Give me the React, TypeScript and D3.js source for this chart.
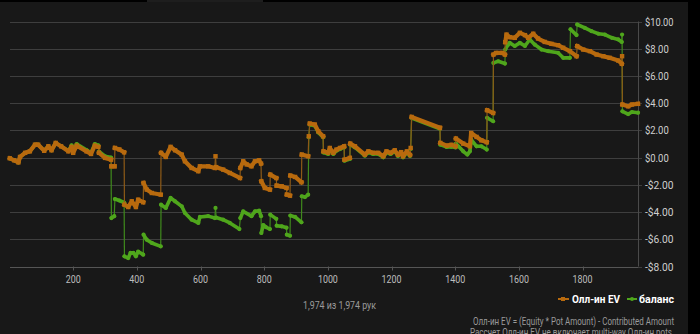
import React from "react";
import * as d3 from "d3";

const evHands = [1, 15, 28, 33, 49, 64, 80, 90, 109, 122, 132, 145, 162, 185, 195, 200, 211, 242, 256, 268, 279, 281, 300, 319, 320, 330, 331, 345, 360, 361, 373, 384, 397, 404, 420, 421, 431, 447, 475, 476, 491, 506, 520, 541, 551, 572, 593, 598, 624, 645, 647, 649, 671, 692, 724, 725, 734, 745, 760, 771, 784, 790, 791, 802, 818, 819, 838, 839, 855, 870, 871, 881, 882, 897, 917, 918, 938, 940, 943, 959, 970, 985, 986, 1001, 1006, 1017, 1027, 1038, 1051, 1052, 1069, 1070, 1085, 1116, 1127, 1142, 1158, 1174, 1184, 1197, 1210, 1220, 1230, 1236, 1248, 1258, 1260, 1263, 1352, 1353, 1373, 1388, 1401, 1402, 1425, 1446, 1450, 1467, 1482, 1499, 1500, 1519, 1520, 1528, 1548, 1556, 1557, 1561, 1571, 1587, 1603, 1619, 1629, 1645, 1660, 1681, 1702, 1723, 1739, 1760, 1781, 1783, 1802, 1823, 1844, 1865, 1885, 1912, 1923, 1924, 1925, 1943, 1955, 1974];
const evValues = [-0.05, -0.2, -0.35, 0.05, 0.35, 0.46, 0.95, 0.95, 0.5, 0.83, 0.54, 1.08, 0.83, 0.46, 0.79, 0.35, 0.88, 0.46, 0.27, 0.88, 0.79, 0.35, -0.02, -0.15, -0.64, -0.64, 0.71, 0.6, 0.39, -3.46, -3.63, -3.21, -3.63, -3.09, -3.28, -1.86, -2.35, -2.6, -2.72, 0.35, 0.05, 0.79, 0.54, 0.22, -0.27, -0.76, -1.0, -0.64, -0.64, -0.76, 0.1, -0.7, -0.88, -1.13, -1.5, -0.76, -0.27, -0.5, -0.64, -0.27, -0.2, -0.44, -1.74, -2.23, -2.35, -1.25, -1.5, -2.06, -2.11, -2.23, -2.72, -2.79, -1.32, -1.42, -1.81, 0.22, 0.1, 1.57, 2.5, 2.43, 1.93, 1.57, 0.46, 0.35, 0.71, 0.35, 0.59, 0.71, 0.83, -0.15, -0.02, 1.03, 0.83, 0.22, 0.46, 0.35, 0.35, 0.1, 0.46, 0.35, 0.54, 0.2, 0.4, 0.1, 0.46, 0.2, 0.71, 2.99, 2.2, 1.08, 0.88, 0.94, 0.83, 1.4, 1.03, 0.83, 1.81, 1.52, 1.27, 1.13, 3.48, 3.28, 7.57, 7.69, 7.69, 7.57, 8.48, 9.04, 8.85, 8.8, 9.17, 9.0, 8.8, 9.1, 8.75, 8.5, 8.36, 8.26, 8.07, 7.82, 7.45, 8.19, 7.94, 7.82, 7.57, 7.45, 7.33, 7.13, 6.89, 7.45, 3.9, 3.77, 3.9, 3.95];

const balHands = [1, 15, 28, 33, 49, 64, 80, 90, 109, 122, 132, 145, 162, 185, 195, 200, 211, 242, 256, 268, 279, 281, 300, 319, 320, 329, 331, 345, 360, 361, 373, 380, 389, 397, 404, 420, 421, 431, 447, 475, 476, 491, 506, 520, 541, 551, 572, 593, 598, 624, 645, 647, 649, 671, 692, 722, 725, 734, 760, 771, 784, 790, 791, 797, 805, 818, 819, 838, 839, 855, 870, 871, 881, 882, 897, 917, 918, 928, 938, 940, 943, 959, 970, 985, 986, 1001, 1006, 1017, 1027, 1038, 1051, 1052, 1069, 1070, 1085, 1116, 1127, 1142, 1158, 1174, 1184, 1197, 1210, 1220, 1230, 1236, 1248, 1258, 1260, 1263, 1352, 1353, 1373, 1388, 1401, 1402, 1425, 1438, 1446, 1450, 1467, 1482, 1499, 1500, 1519, 1520, 1535, 1556, 1557, 1566, 1571, 1587, 1603, 1619, 1634, 1650, 1671, 1692, 1723, 1739, 1760, 1762, 1781, 1783, 1807, 1828, 1850, 1870, 1892, 1912, 1923, 1924, 1925, 1943, 1955, 1974];
const balValues = [-0.05, -0.2, -0.35, 0.05, 0.35, 0.46, 0.95, 0.95, 0.5, 0.83, 0.54, 1.08, 0.83, 0.5, 0.9, 0.45, 1.0, 0.55, 0.35, 1.0, 0.9, 0.45, 0.1, 0.0, -4.44, -4.3, -3.04, -3.15, -3.3, -7.25, -7.38, -7.0, -7.0, -7.25, -6.9, -7.13, -5.66, -6.03, -6.27, -6.52, -3.46, -3.7, -2.96, -3.21, -3.58, -4.07, -4.56, -4.8, -4.36, -4.3, -4.44, -3.7, -4.4, -4.56, -4.8, -5.25, -4.44, -3.95, -4.3, -3.95, -3.9, -4.3, -5.54, -4.95, -5.1, -5.25, -4.19, -4.5, -5.0, -5.05, -5.15, -5.66, -5.74, -4.26, -4.36, -4.75, -2.84, -2.9, -2.72, 1.5, 2.42, 2.35, 1.85, 1.49, 0.38, 0.27, 0.63, 0.27, 0.51, 0.63, 0.75, -0.23, -0.1, 0.95, 0.75, 0.14, 0.38, 0.27, 0.27, 0.02, 0.38, 0.27, 0.46, 0.12, 0.32, 0.02, 0.38, 0.12, 0.63, 2.91, 2.12, 0.95, 0.78, 0.8, 0.75, 1.03, 0.46, 0.22, 0.46, 1.32, 0.83, 0.83, 0.59, 2.92, 2.67, 6.96, 7.08, 6.91, 7.94, 8.3, 8.43, 8.2, 8.43, 8.2, 8.68, 8.3, 7.94, 7.82, 7.7, 7.33, 7.33, 9.43, 9.0, 9.78, 9.53, 9.29, 9.1, 9.04, 8.8, 8.68, 8.5, 9.04, 3.4, 3.2, 3.35, 3.3];

const yTicks = [10, 8, 6, 4, 2, 0, -2, -4, -6, -8];
const xTicks = [200, 400, 600, 800, 1000, 1200, 1400, 1600, 1800];
const totalHands = 1974;
const seriesNames = ["Олл-ин EV", "баланс"];
const countLabel = "1,974 из 1,974 рук";
const footLines = [
  "Олл-ин EV = (Equity * Pot Amount) - Contributed Amount",
  "Рассчет Олл-ин EV не включает multi-way Олл-ин pots.",
];

const W = 700;
const H = 334;
const FONT = "Roboto, 'Noto Sans', sans-serif";

const x = d3.scaleLinear().domain([0, totalHands]).range([9.5, 638]);
const y = d3.scaleLinear().domain([-8, 10]).range([266.5, 21.5]);

type Pt = [number, number];

function buildPaths(hands: number[], values: number[]) {
  const pts: Pt[] = hands.map((h, i) => [h, values[i]]);
  const thick: Pt[][] = [];
  const thin: [Pt, Pt][] = [];
  let cur: Pt[] = [pts[0]];
  for (let i = 1; i < pts.length; i++) {
    if (pts[i][0] - pts[i - 1][0] <= 3) {
      thin.push([pts[i - 1], pts[i]]);
      thick.push(cur);
      cur = [pts[i]];
    } else {
      cur.push(pts[i]);
    }
  }
  thick.push(cur);
  return { pts, thick, thin };
}

const line = d3
  .line<Pt>()
  .x((d) => x(d[0]))
  .y((d) => y(d[1]));

function Series({
  hands,
  values,
  color,
  thinColor,
  width,
  square,
}: {
  hands: number[];
  values: number[];
  color: string;
  thinColor: string;
  width: number;
  square: boolean;
}) {
  const { pts, thick, thin } = buildPaths(hands, values);
  return (
    <g>
      {thin.map((s, i) => (
        <path key={"t" + i} d={line(s) || ""} stroke={thinColor} strokeWidth={1.2} fill="none" />
      ))}
      {thick.map((s, i) =>
        s.length > 1 ? (
          <path
            key={"k" + i}
            d={line(s) || ""}
            stroke={color}
            strokeWidth={width}
            fill="none"
            strokeLinejoin="round"
            strokeLinecap={square ? "square" : "round"}
          />
        ) : null
      )}
      {pts.map((p, i) =>
        square ? (
          <rect key={"m" + i} x={x(p[0]) - 2.2} y={y(p[1]) - 2.2} width={4.4} height={4.4} fill={color} />
        ) : (
          <circle key={"m" + i} cx={x(p[0])} cy={y(p[1])} r={2.1} fill={color} />
        )
      )}
    </g>
  );
}

const ORANGE = "#b86a0e";
const GREEN = "#4fa61c";

export default function App() {
  return (
    <svg
      width={W}
      height={H}
      style={{ position: "absolute", left: 0, top: 0, display: "block" }}
      fontFamily={FONT}
    >
      <rect x={0} y={0} width={W} height={H} fill="#000" />
      <rect x={0} y={2} width={688} height={H - 2} fill="#181818" />
      <rect x={147} y={0} width={116} height={2} fill="#1e1e1e" />

      {yTicks.map((t) => {
        const label = (t < 0 ? "-$" : "$") + Math.abs(t).toFixed(2);
        return (
          <g key={t}>
            <line x1={10} x2={642} y1={Math.round(y(t)) + 0.5} y2={Math.round(y(t)) + 0.5} stroke="#3e3e3e" strokeWidth={1} />
            <text
              x={645}
              y={y(t) + 4}
              fill="#cfcfcf"
              fontSize={11}
              textLength={label.length * 4.75}
              lengthAdjust="spacingAndGlyphs"
            >
              {label}
            </text>
          </g>
        );
      })}
      <line x1={638.5} x2={638.5} y1={y(10)} y2={y(-8)} stroke="#4a4a4a" strokeWidth={1} />
      <line x1={10} x2={638} y1={Math.round(y(-8)) + 0.5} y2={Math.round(y(-8)) + 0.5} stroke="#555" strokeWidth={1} />
      {xTicks.map((t) => (
        <g key={t}>
          <line x1={Math.round(x(t)) + 0.5} x2={Math.round(x(t)) + 0.5} y1={y(-8)} y2={y(-8) + 4} stroke="#555" />
          <text
            x={x(t)}
            y={283}
            fill="#bdbdbd"
            fontSize={10.5}
            textAnchor="middle"
            textLength={String(t).length * 5}
            lengthAdjust="spacingAndGlyphs"
          >
            {t}
          </text>
        </g>
      ))}

      <Series hands={balHands} values={balValues} color={GREEN} thinColor="#3f8a1c" width={3.6} square={false} />
      <Series hands={evHands} values={evValues} color={ORANGE} thinColor="#8d5a17" width={4.2} square={true} />

      <text x={303} y={309} fill="#9a9a9a" fontSize={10} textLength={73} lengthAdjust="spacingAndGlyphs">
        {countLabel}
      </text>

      <g>
        <line x1={558} x2={569} y1={299} y2={299} stroke={ORANGE} strokeWidth={2} />
        <rect x={561} y={297} width={4} height={4} fill={ORANGE} />
        <text x={572} y={303} fill="#fff" fontSize={11} fontWeight="bold" textLength={48} lengthAdjust="spacingAndGlyphs">
          {seriesNames[0]}
        </text>
        <line x1={627} x2={637} y1={299} y2={299} stroke={GREEN} strokeWidth={2} />
        <circle cx={632} cy={299} r={2} fill={GREEN} />
        <text x={639} y={303} fill="#fff" fontSize={11} fontWeight="bold" textLength={35} lengthAdjust="spacingAndGlyphs">
          {seriesNames[1]}
        </text>
      </g>

      <text x={473} y={324.5} fill="#9a9a9a" fontSize={10} textLength={201} lengthAdjust="spacingAndGlyphs">
        {footLines[0]}
      </text>
      <text x={470} y={335.5} fill="#9a9a9a" fontSize={10} textLength={204} lengthAdjust="spacingAndGlyphs">
        {footLines[1]}
      </text>
    </svg>
  );
}
